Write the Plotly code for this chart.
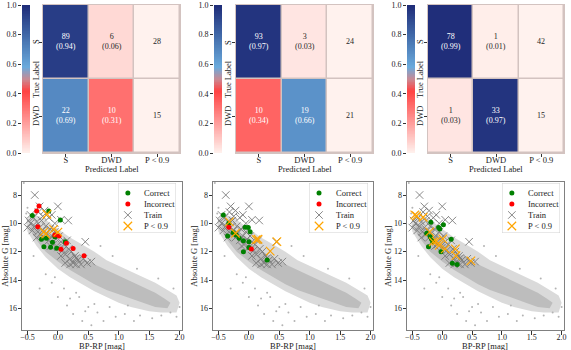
import plotly.graph_objects as go

W, H = 571, 350
FONT = "Liberation Serif, Times New Roman, serif"
FS_NUM = 8     # numbers
FS_TXT = 8.5   # words

# ---------------- data ----------------
pred_labels = ["S", "DWD", "P < 0.9"]
true_labels = ["S", "DWD"]
cbar_ticks = [0.0, 0.2, 0.4, 0.6, 0.8, 1.0]

counts = [
    [[89, 6, 28], [22, 10, 15]],
    [[93, 3, 24], [10, 19, 21]],
    [[78, 1, 42], [1, 33, 15]],
]
fractions = [
    [[0.94, 0.06], [0.69, 0.31]],
    [[0.97, 0.03], [0.34, 0.66]],
    [[0.99, 0.01], [0.03, 0.97]],
]

# background population (dense band outline + sparse outliers)
cloud_outer_x = [-0.52, -0.45, -0.3, -0.15, 0.0, 0.2, 0.4, 0.6, 0.8, 1.0, 1.2, 1.4, 1.6, 1.8, 1.95, 2.0,
                 1.95, 1.7, 1.5, 1.2, 1.0, 0.8, 0.6, 0.4, 0.2, 0.0, -0.2, -0.35, -0.5]
cloud_outer_y = [9.9, 9.4, 9.5, 9.9, 10.4, 11.0, 11.5, 12.0, 12.6, 13.0, 13.4, 13.8, 14.2, 14.7, 15.1, 15.6,
                 16.3, 16.3, 16.2, 15.9, 15.6, 15.2, 14.8, 14.3, 13.8, 13.2, 12.4, 11.6, 10.6]
cloud_core_x = [-0.45, -0.3, -0.1, 0.1, 0.3, 0.5, 0.8, 1.0, 1.2, 1.4, 1.6, 1.75, 1.85,
                1.8, 1.6, 1.4, 1.2, 1.0, 0.8, 0.6, 0.4, 0.2, 0.0, -0.2, -0.35, -0.45]
cloud_core_y = [10.0, 10.3, 11.0, 11.6, 12.2, 12.7, 13.3, 13.7, 14.1, 14.5, 14.9, 15.3, 15.6,
                16.0, 15.9, 15.6, 15.3, 15.0, 14.7, 14.3, 13.8, 13.3, 12.7, 12.0, 11.2, 10.5]
cloud_sparse_x = [-0.56, -0.5, -0.52, -0.2, -0.3, -0.1, 0.0, 0.1, 0.15, 0.25, 0.35, 0.4, 0.5, 0.55, 0.65,
                  0.75, 0.85, 0.95, 1.1, 1.25, 1.35, 1.55, 1.7, 1.85, 1.95, 2.0, 1.9, 1.65, 1.3, 0.9,
                  0.7, -0.05, 0.3, -0.4, 0.2, 0.6, 0.45, 1.15]
cloud_sparse_y = [7.15, 8.9, 9.3, 13.6, 14.6, 14.2, 15.2, 14.6, 15.8, 16.4, 15.2, 16.9, 15.9, 17.2, 16.3,
                  16.9, 15.9, 16.6, 16.4, 16.9, 16.5, 16.7, 16.5, 16.3, 16.6, 15.9, 14.6, 13.9, 13.2, 12.3,
                  11.6, 13.8, 14.9, 12.3, 15.3, 15.7, 16.2, 15.8]

train_x = [-0.38, 0.0, 0.17, 0.45, -0.3, -0.22, -0.1, 0.05, -0.32, -0.15,
           -0.5, -0.45, -0.42, -0.4, -0.38, -0.35, -0.33, -0.3, -0.28, -0.27, -0.25, -0.22, -0.2,
           -0.18, -0.15, -0.13, -0.1, -0.08, -0.05, -0.03, 0.0, 0.02, 0.05, 0.08, 0.1, 0.12, 0.15,
           0.18, 0.2, 0.22, 0.25, 0.28, 0.3, 0.33, 0.38, 0.42, 0.48, 0.55, 0.12, 0.2, 0.3, -0.45,
           -0.48, -0.35, -0.12, 0.05, -0.25, -0.05]
train_y = [8.0, 8.8, 9.8, 11.3, 8.8, 9.1, 9.4, 9.75, 9.2, 9.6,
           10.3, 10.0, 10.5, 9.6, 10.2, 9.9, 10.6, 10.3, 10.8, 9.8, 10.5, 11.0, 10.2,
           10.7, 11.2, 10.4, 10.9, 11.5, 10.6, 11.1, 11.7, 10.9, 11.3, 11.9, 11.5, 12.2, 11.2,
           11.8, 12.5, 12.0, 12.8, 12.3, 12.9, 12.6, 12.9, 12.5, 12.8, 12.7, 12.8, 12.9, 12.45, 9.4,
           9.8, 11.0, 11.6, 12.3, 9.5, 10.0]

correct_x = [
    [-0.42, -0.15, 0.04, -0.27, -0.19, -0.09, -0.23, -0.12, -0.02, 0.12, -0.05],
    [-0.42, -0.33, -0.35, -0.26, -0.21, -0.16, -0.09, 0.0, -0.09, 0.0, 0.02, 0.3, -0.06, -0.01],
    [-0.19, 0.02, -0.06, -0.04, -0.26, -0.2, -0.18, -0.16, -0.23, -0.02, 0.15, 0.17, 0.25],
]
correct_y = [
    [9.45, 9.13, 9.76, 11.13, 11.06, 11.34, 11.65, 11.68, 11.75, 11.3, 10.95],
    [9.41, 10.0, 10.89, 10.65, 10.82, 11.06, 11.22, 11.3, 12.0, 11.7, 10.6, 12.59, 10.28, 10.3],
    [9.93, 10.1, 10.3, 10.4, 10.7, 10.95, 11.1, 11.3, 11.65, 12.0, 11.12, 12.82, 12.9],
]
incorrect_x = [
    [-0.31, -0.35, -0.33, -0.05, 0.02, 0.14, 0.05, 0.25, 0.43],
    [-0.33, 0.04],
    [],
]
incorrect_y = [
    [8.78, 9.13, 10.24, 10.82, 10.89, 11.41, 11.83, 11.77, 12.28],
    [10.28, 11.81],
    [],
]
lowp_x = [
    [-0.18, -0.23, -0.2, -0.07, 0.0],
    [-0.32, -0.22, 0.12, 0.15, 0.46, 0.35],
    [-0.46, -0.43, -0.32, -0.21, -0.1, 0.01, -0.05, 0.05, 0.22, 0.23, 0.48, -0.15],
]
lowp_y = [
    [9.36, 10.6, 10.75, 10.43, 10.62],
    [9.9, 10.7, 11.15, 11.12, 11.29, 11.96],
    [9.4, 9.48, 9.57, 10.6, 11.25, 11.1, 11.55, 11.8, 11.8, 12.28, 12.65, 11.3],
]
legend_names = ["Correct", "Incorrect", "Train", "P < 0.9"]

# ---------------- layout geometry (pixels) ----------------
heat_x = [(43, 180), (236, 373), (428, 564)]
cbar_x = [(22, 30), (214, 222), (407, 415)]
scat_x = [(22, 182), (213, 373), (407, 564)]
top_y = (5, 153)
bot_y = (182, 330)
truelabel_x = [36, 228, 420]
legbox_x = [(118, 176), (309, 368), (502, 560)]
legbox_y = (183, 233)
leg_rows = [0.8, 0.58, 0.36, 0.14]
leg_mark_x, leg_text_x = 0.17, 0.42


def dx(a, b):
    return [a / W, b / W]


def dy(t, b):
    return [1 - b / H, 1 - t / H]


colorscale = [[0.0, "#fff2ee"], [0.42, "#ff4242"], [0.5, "#c98a94"], [0.58, "#6aaadc"],
              [0.8, "#4068a8"], [1.0, "#1e2b78"]]

styles = [
    dict(size=5, color="green"),
    dict(size=5, color="red"),
    dict(symbol="x-thin", size=7.5, color="#7a7a7a", line=dict(width=0.9, color="#7a7a7a")),
    dict(symbol="x-thin", size=8.5, color="orange", line=dict(width=1.2, color="orange")),
]

fig = go.Figure()
layout = dict(width=W, height=H, margin=dict(l=0, r=0, t=0, b=0),
              paper_bgcolor="white", plot_bgcolor="white", showlegend=False,
              font=dict(family=FONT, size=FS_NUM, color="#222"), shapes=[], annotations=[])


def ann(size=FS_TXT, color="#222", **kw):
    base = dict(showarrow=False, xanchor="center", yanchor="middle",
                font=dict(size=size, family=FONT, color=color))
    base.update(kw)
    layout["annotations"].append(base)


levels = [i / 200 for i in range(201)]

for p in range(3):
    hx, hy = f"x{p+1}", f"y{p+1}"
    cx, cy = f"x{p+4}", f"y{p+4}"
    sx, sy = f"x{p+7}", f"y{p+7}"
    lx, ly = f"x{p+10}", f"y{p+10}"
    # heatmap colours: fractions, P<0.9 column at bottom of scale
    z = [fractions[p][r] + [0.0] for r in range(2)]
    fig.add_trace(go.Heatmap(z=z, x=[0, 1, 2], y=[0, 1], colorscale=colorscale, zmin=0, zmax=1,
                             showscale=False, xgap=1.5, ygap=1.5, hoverinfo="skip",
                             xaxis=hx, yaxis=hy))
    layout["shapes"].append(dict(type="rect", xref=hx, yref=hy, x0=-0.5, x1=2.5, y0=-0.5, y1=1.5,
                                 fillcolor="#d3c3c0", line=dict(width=0), layer="below"))
    for r in range(2):
        for c in range(3):
            if c < 2:
                f = fractions[p][r][c]
                txt = f"{counts[p][r][c]}<br>({f:.2f})"
                col = "white" if f >= 0.25 else "#262626"
            else:
                txt = f"{counts[p][r][c]}"
                col = "#262626"
            ann(x=c, y=r, xref=hx, yref=hy, text=txt, size=FS_NUM, color=col)
    layout[f"xaxis{p+1}"] = dict(domain=dx(*heat_x[p]), anchor=hy, range=[-0.5, 2.5],
                                 tickvals=[0, 1, 2], ticktext=pred_labels, ticks="outside", ticklen=3,
                                 tickcolor="#333", showgrid=False, zeroline=False, automargin=False,
                                 showline=True, mirror=True, linecolor="#d3c3c0",
                                 tickfont=dict(size=FS_TXT), ticklabelstandoff=-4)
    # row labels drawn as rotated text next to the tick marks
    layout[f"yaxis{p+1}"] = dict(domain=dy(*top_y), anchor=hx, range=[1.5, -0.5],
                                 tickvals=[0, 1], showticklabels=False, ticks="outside", ticklen=3,
                                 tickcolor="#333", showgrid=False, zeroline=False,
                                 automargin=False, showline=True, mirror=True, linecolor="#d3c3c0")
    for r, lab in enumerate(true_labels):
        ann(x=truelabel_x[p] / W, xref="paper", y=r, yref=hy, text=lab, textangle=-90)
    ann(x=sum(heat_x[p]) / 2 / W, y=1 - 169.5 / H, xref="paper", yref="paper", text="Predicted Label")
    ann(x=truelabel_x[p] / W, y=1 - 79 / H, xref="paper", yref="paper", text="True Label", textangle=-90)

    # colour bar as its own small axis
    fig.add_trace(go.Heatmap(z=[[v] for v in levels], x=[0], y=levels, colorscale=colorscale,
                             zmin=0, zmax=1, showscale=False, hoverinfo="skip", xaxis=cx, yaxis=cy))
    layout[f"xaxis{p+4}"] = dict(domain=dx(*cbar_x[p]), anchor=cy, range=[-0.5, 0.5], visible=False)
    layout[f"yaxis{p+4}"] = dict(domain=dy(*top_y), anchor=cx, range=[0, 1], tickvals=cbar_ticks,
                                 tickformat=".1f", ticks="outside", ticklen=3, tickcolor="#333",
                                 showgrid=False, zeroline=False, automargin=False,
                                 tickfont=dict(size=FS_NUM), ticklabeloverflow="allow")

    # scatter panel
    fig.add_trace(go.Scatter(x=cloud_outer_x, y=cloud_outer_y, fill="toself", mode="lines",
                             line=dict(width=0), fillcolor="#dadada", hoverinfo="skip", xaxis=sx, yaxis=sy))
    fig.add_trace(go.Scatter(x=cloud_core_x, y=cloud_core_y, fill="toself", mode="lines",
                             line=dict(width=0), fillcolor="#bdbdbd", hoverinfo="skip", xaxis=sx, yaxis=sy))
    fig.add_trace(go.Scatter(x=cloud_sparse_x, y=cloud_sparse_y, mode="markers",
                             marker=dict(size=2, color="#b3b3b3"), hoverinfo="skip", xaxis=sx, yaxis=sy))
    series = [(train_x, train_y, 2), (correct_x[p], correct_y[p], 0),
              (incorrect_x[p], incorrect_y[p], 1), (lowp_x[p], lowp_y[p], 3)]
    for xs, ys, k in series:
        fig.add_trace(go.Scatter(x=xs, y=ys, mode="markers", name=legend_names[k],
                                 marker=styles[k], xaxis=sx, yaxis=sy))
    layout[f"xaxis{p+7}"] = dict(domain=dx(*scat_x[p]), anchor=sy, range=[-0.59, 2.04],
                                 tickvals=[-0.5, 0, 0.5, 1, 1.5, 2], tickformat=".1f", ticks="outside",
                                 ticklen=3.5, tickcolor="#333", showgrid=False, zeroline=False,
                                 automargin=False, showline=True, mirror=True, linecolor="#808080",
                                 tickfont=dict(size=FS_NUM), ticklabelstandoff=-4)
    layout[f"yaxis{p+7}"] = dict(domain=dy(*bot_y), anchor=sx, range=[17.53, 7.08],
                                 tickvals=[8, 10, 12, 14, 16], ticks="outside", ticklen=3.5,
                                 tickcolor="#333", showgrid=False, zeroline=False, automargin=False,
                                 showline=True, mirror=True, linecolor="#808080", tickfont=dict(size=FS_NUM),
                                 ticklabelstandoff=-1,
                                 title=dict(text="Absolute G [mag]", standoff=0, font=dict(size=FS_TXT)))
    ann(x=sum(scat_x[p]) / 2 / W, y=1 - 346 / H, xref="paper", yref="paper", text="BP-RP [mag]")

    # compact legend box in its own overlay axis
    layout[f"xaxis{p+10}"] = dict(domain=dx(*legbox_x[p]), anchor=ly, range=[0, 1], visible=False)
    layout[f"yaxis{p+10}"] = dict(domain=dy(*legbox_y), anchor=lx, range=[0, 1], visible=False)
    layout["shapes"].append(dict(type="rect", xref=lx, yref=ly, x0=0, x1=1, y0=0, y1=1,
                                 fillcolor="rgba(255,255,255,0.85)", line=dict(width=1, color="#d0d0d0"),
                                 layer="below"))
    for k in range(4):
        fig.add_trace(go.Scatter(x=[leg_mark_x], y=[leg_rows[k]], mode="markers", marker=styles[k],
                                 hoverinfo="skip", xaxis=lx, yaxis=ly))
        ann(x=leg_text_x, y=leg_rows[k], xref=lx, yref=ly, text=legend_names[k], xanchor="left")

fig.update_layout(**layout)
fig.write_html("out.html")
